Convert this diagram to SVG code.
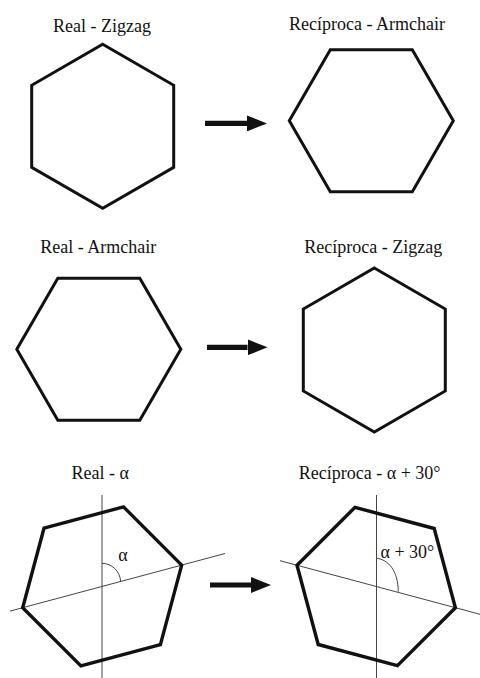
<svg xmlns="http://www.w3.org/2000/svg" width="480" height="678" viewBox="0 0 480 678">
<style>
text{font-family:'Liberation Serif','Times New Roman','DejaVu Serif',serif;font-size:18px;fill:#111;}
.hex{fill:none;stroke:#111;stroke-width:3;stroke-linejoin:miter;}
.hexb{fill:none;stroke:#111;stroke-width:3.4;stroke-linejoin:miter;}
.ax{fill:none;stroke:#444;stroke-width:1;}
.arr{stroke:#111;stroke-width:5.2;fill:none;}
</style>
<defs>
<marker id="ah" markerUnits="userSpaceOnUse" markerWidth="20" markerHeight="16" viewBox="0 0 20 16" refX="0" refY="8" orient="auto">
<path d="M0,0 L20,8 L0,16 z" fill="#111"/>
</marker>
</defs>
<rect width="480" height="678" fill="#fff"/>
<g id="real-zigzag">
<text font-family="Liberation Serif, serif" x="102" y="31.5" text-anchor="middle">Real - Zigzag</text>
<polygon class="hex" points="102.7,44.3 173.7,85.3 173.7,167.3 102.7,208.3 31.7,167.3 31.7,85.3"/>
</g>
<g id="reciproca-armchair">
<text font-family="Liberation Serif, serif" x="367" y="29.5" text-anchor="middle">Recíproca - Armchair</text>
<polygon class="hex" points="453.3,120.8 412.3,191.8 330.3,191.8 289.3,120.8 330.3,49.8 412.3,49.8"/>
</g>
<g id="real-armchair">
<text font-family="Liberation Serif, serif" x="98.3" y="253.3" text-anchor="middle">Real - Armchair</text>
<polygon class="hex" points="180.8,349.2 139.8,420.2 57.8,420.2 16.8,349.2 57.8,278.2 139.8,278.2"/>
</g>
<g id="reciproca-zigzag">
<text font-family="Liberation Serif, serif" x="373.3" y="253.3" text-anchor="middle">Recíproca - Zigzag</text>
<polygon class="hex" points="374.3,268 445.3,309 445.3,391 374.3,432 303.3,391 303.3,309"/>
</g>
<g id="real-alpha">
<text font-family="Liberation Serif, serif" x="100.3" y="478.5" text-anchor="middle">Real - α</text>
<line class="ax" x1="102" y1="495" x2="102" y2="678"/>
<line class="ax" x1="10" y1="611.1" x2="225" y2="553.5"/>
<path class="ax" d="M102,563.3 C112,563.5 120,571 120.7,581.7"/>
<text font-family="Liberation Serif, serif" x="118.3" y="561">α</text>
<polygon class="hexb" points="181.7,565.1 123.5,506.9 44,528.2 22.7,607.7 80.9,665.9 160.4,644.6"/>
</g>
<g id="reciproca-alpha30">
<text font-family="Liberation Serif, serif" x="369.7" y="479" text-anchor="middle">Recíproca - α + 30°</text>
<line class="ax" x1="376.5" y1="495" x2="376.5" y2="678"/>
<line class="ax" x1="280" y1="560.7" x2="480" y2="614.3"/>
<path class="ax" d="M376.5,558.3 C388,559.5 398,570 398.3,591.7"/>
<text font-family="Liberation Serif, serif" x="380.5" y="557.5">α + 30°</text>
<polygon class="hexb" points="455.4,607.7 397.4,665.7 318.2,644.5 297,565.3 355,507.3 434.2,528.5"/>
</g>
<g id="connectors">
<line class="arr" x1="205" y1="123.4" x2="247" y2="123.4" marker-end="url(#ah)"/>
<line class="arr" x1="207" y1="347.3" x2="247.5" y2="347.3" marker-end="url(#ah)"/>
<line class="arr" x1="210" y1="585" x2="251" y2="585" marker-end="url(#ah)"/>
</g>
</svg>
